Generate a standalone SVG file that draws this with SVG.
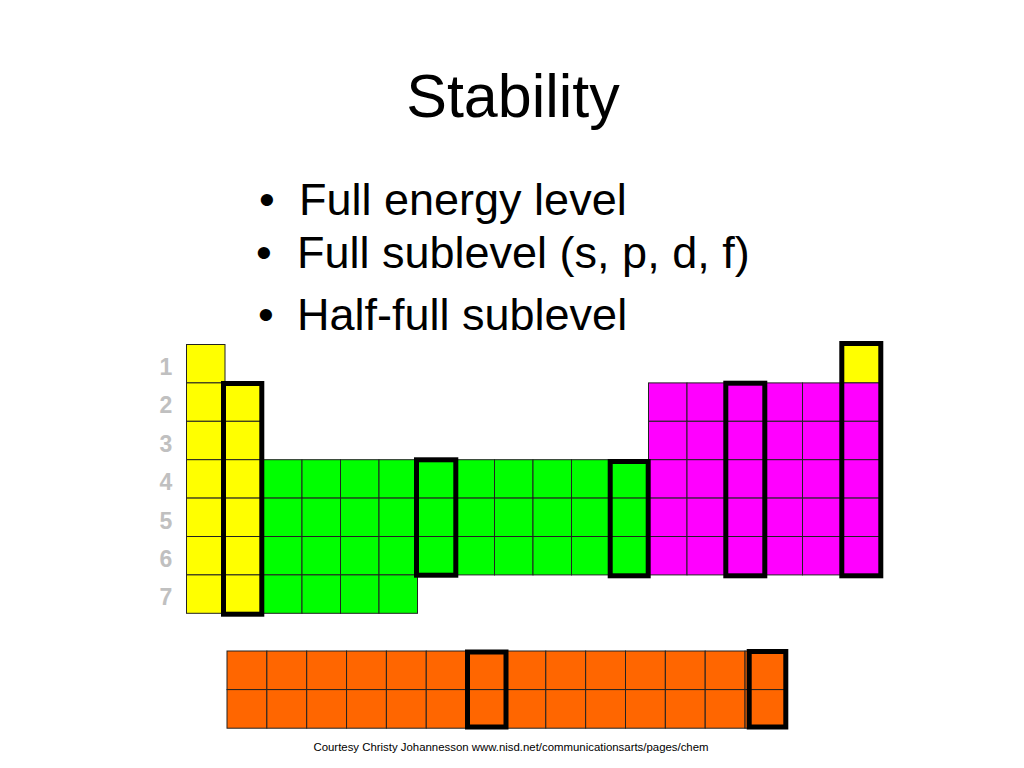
<svg xmlns="http://www.w3.org/2000/svg" xmlns:xlink="http://www.w3.org/1999/xlink" width="1024" height="768" viewBox="0 0 1024 768">
<style>
  text { font-family: "Liberation Sans", Arial, sans-serif; }
  .title { font-size: 61px; fill: #000; }
  .bul { font-size: 45px; fill: #000; }
  .row { font-size: 23px; font-weight: bold; fill: #c0c0c0; text-anchor: middle; }
  .credit { font-size: 11.4px; fill: #000; text-anchor: middle; }
  .cell { stroke: #222; stroke-width: 1; }
  .y { fill: #ffff00; }
  .g { fill: #00ff00; }
  .m { fill: #ff00ff; }
  .o { fill: #ff6600; }
  .box { fill: none; stroke: #000; stroke-width: 5; }
</style>
<defs>
  <rect id="c" class="cell" width="38.5" height="38.4"/>
  <rect id="f" class="cell" width="39.85" height="38.6"/>
</defs>
<rect width="1024" height="768" fill="#fff"/>
<text class="title" x="513" y="117" text-anchor="middle">Stability</text>
<g id="bullets">
  <text class="bul" x="267" y="215" text-anchor="middle">•</text>
  <text class="bul" x="299" y="215">Full energy level</text>
  <text class="bul" x="264" y="268" text-anchor="middle">•</text>
  <text class="bul" x="297" y="268">Full sublevel (s, p, d, f)</text>
  <text class="bul" x="266" y="330" text-anchor="middle">•</text>
  <text class="bul" x="297" y="330">Half-full sublevel</text>
</g>
<g id="rows">
  <text class="row" x="166" y="375">1</text>
  <text class="row" x="166" y="413.4">2</text>
  <text class="row" x="166" y="451.8">3</text>
  <text class="row" x="166" y="490.2">4</text>
  <text class="row" x="166" y="528.6">5</text>
  <text class="row" x="166" y="567">6</text>
  <text class="row" x="166" y="605.4">7</text>
</g>
<g id="s-block" class="y">
  <use xlink:href="#c" x="186.5" y="344.5"/>
  <use xlink:href="#c" x="186.5" y="382.9"/>
  <use xlink:href="#c" x="186.5" y="421.3"/>
  <use xlink:href="#c" x="186.5" y="459.7"/>
  <use xlink:href="#c" x="186.5" y="498.1"/>
  <use xlink:href="#c" x="186.5" y="536.5"/>
  <use xlink:href="#c" x="186.5" y="574.9"/>
  <use xlink:href="#c" x="225" y="382.9"/>
  <use xlink:href="#c" x="225" y="421.3"/>
  <use xlink:href="#c" x="225" y="459.7"/>
  <use xlink:href="#c" x="225" y="498.1"/>
  <use xlink:href="#c" x="225" y="536.5"/>
  <use xlink:href="#c" x="225" y="574.9"/>
  <use xlink:href="#c" x="841" y="344.5"/>
</g>
<g id="d-block" class="g">
  <use xlink:href="#c" x="263.5" y="459.7"/><use xlink:href="#c" x="302" y="459.7"/><use xlink:href="#c" x="340.5" y="459.7"/><use xlink:href="#c" x="379" y="459.7"/><use xlink:href="#c" x="417.5" y="459.7"/><use xlink:href="#c" x="456" y="459.7"/><use xlink:href="#c" x="494.5" y="459.7"/><use xlink:href="#c" x="533" y="459.7"/><use xlink:href="#c" x="571.5" y="459.7"/><use xlink:href="#c" x="610" y="459.7"/>
  <use xlink:href="#c" x="263.5" y="498.1"/><use xlink:href="#c" x="302" y="498.1"/><use xlink:href="#c" x="340.5" y="498.1"/><use xlink:href="#c" x="379" y="498.1"/><use xlink:href="#c" x="417.5" y="498.1"/><use xlink:href="#c" x="456" y="498.1"/><use xlink:href="#c" x="494.5" y="498.1"/><use xlink:href="#c" x="533" y="498.1"/><use xlink:href="#c" x="571.5" y="498.1"/><use xlink:href="#c" x="610" y="498.1"/>
  <use xlink:href="#c" x="263.5" y="536.5"/><use xlink:href="#c" x="302" y="536.5"/><use xlink:href="#c" x="340.5" y="536.5"/><use xlink:href="#c" x="379" y="536.5"/><use xlink:href="#c" x="417.5" y="536.5"/><use xlink:href="#c" x="456" y="536.5"/><use xlink:href="#c" x="494.5" y="536.5"/><use xlink:href="#c" x="533" y="536.5"/><use xlink:href="#c" x="571.5" y="536.5"/><use xlink:href="#c" x="610" y="536.5"/>
  <use xlink:href="#c" x="263.5" y="574.9"/><use xlink:href="#c" x="302" y="574.9"/><use xlink:href="#c" x="340.5" y="574.9"/><use xlink:href="#c" x="379" y="574.9"/>
</g>
<g id="p-block" class="m">
  <use xlink:href="#c" x="648.5" y="382.9"/><use xlink:href="#c" x="687" y="382.9"/><use xlink:href="#c" x="725.5" y="382.9"/><use xlink:href="#c" x="764" y="382.9"/><use xlink:href="#c" x="802.5" y="382.9"/><use xlink:href="#c" x="841" y="382.9"/>
  <use xlink:href="#c" x="648.5" y="421.3"/><use xlink:href="#c" x="687" y="421.3"/><use xlink:href="#c" x="725.5" y="421.3"/><use xlink:href="#c" x="764" y="421.3"/><use xlink:href="#c" x="802.5" y="421.3"/><use xlink:href="#c" x="841" y="421.3"/>
  <use xlink:href="#c" x="648.5" y="459.7"/><use xlink:href="#c" x="687" y="459.7"/><use xlink:href="#c" x="725.5" y="459.7"/><use xlink:href="#c" x="764" y="459.7"/><use xlink:href="#c" x="802.5" y="459.7"/><use xlink:href="#c" x="841" y="459.7"/>
  <use xlink:href="#c" x="648.5" y="498.1"/><use xlink:href="#c" x="687" y="498.1"/><use xlink:href="#c" x="725.5" y="498.1"/><use xlink:href="#c" x="764" y="498.1"/><use xlink:href="#c" x="802.5" y="498.1"/><use xlink:href="#c" x="841" y="498.1"/>
  <use xlink:href="#c" x="648.5" y="536.5"/><use xlink:href="#c" x="687" y="536.5"/><use xlink:href="#c" x="725.5" y="536.5"/><use xlink:href="#c" x="764" y="536.5"/><use xlink:href="#c" x="802.5" y="536.5"/><use xlink:href="#c" x="841" y="536.5"/>
</g>
<g id="f-block" class="o">
  <use xlink:href="#f" x="227" y="651"/><use xlink:href="#f" x="266.85" y="651"/><use xlink:href="#f" x="306.7" y="651"/><use xlink:href="#f" x="346.55" y="651"/><use xlink:href="#f" x="386.4" y="651"/><use xlink:href="#f" x="426.25" y="651"/><use xlink:href="#f" x="466.1" y="651"/><use xlink:href="#f" x="505.95" y="651"/><use xlink:href="#f" x="545.8" y="651"/><use xlink:href="#f" x="585.65" y="651"/><use xlink:href="#f" x="625.5" y="651"/><use xlink:href="#f" x="665.35" y="651"/><use xlink:href="#f" x="705.2" y="651"/><use xlink:href="#f" x="745.05" y="651"/>
  <use xlink:href="#f" x="227" y="689.6"/><use xlink:href="#f" x="266.85" y="689.6"/><use xlink:href="#f" x="306.7" y="689.6"/><use xlink:href="#f" x="346.55" y="689.6"/><use xlink:href="#f" x="386.4" y="689.6"/><use xlink:href="#f" x="426.25" y="689.6"/><use xlink:href="#f" x="466.1" y="689.6"/><use xlink:href="#f" x="505.95" y="689.6"/><use xlink:href="#f" x="545.8" y="689.6"/><use xlink:href="#f" x="585.65" y="689.6"/><use xlink:href="#f" x="625.5" y="689.6"/><use xlink:href="#f" x="665.35" y="689.6"/><use xlink:href="#f" x="705.2" y="689.6"/><use xlink:href="#f" x="745.05" y="689.6"/>
</g>
<g id="highlights">
  <rect class="box" x="223.5" y="383.5" width="38.3" height="230.7"/>
  <rect class="box" x="416.5" y="459.8" width="39.3" height="115.4"/>
  <rect class="box" x="610.2" y="461.5" width="38" height="114.3"/>
  <rect class="box" x="725.8" y="383.2" width="39" height="192.6"/>
  <rect class="box" x="841.8" y="343.5" width="39" height="232.3"/>
  <rect class="box" x="467.5" y="652" width="38.5" height="75"/>
  <rect class="box" x="749.2" y="651.5" width="36.6" height="75.5"/>
</g>
<text class="credit" x="511" y="751">Courtesy Christy Johannesson www.nisd.net/communicationsarts/pages/chem</text>
</svg>
